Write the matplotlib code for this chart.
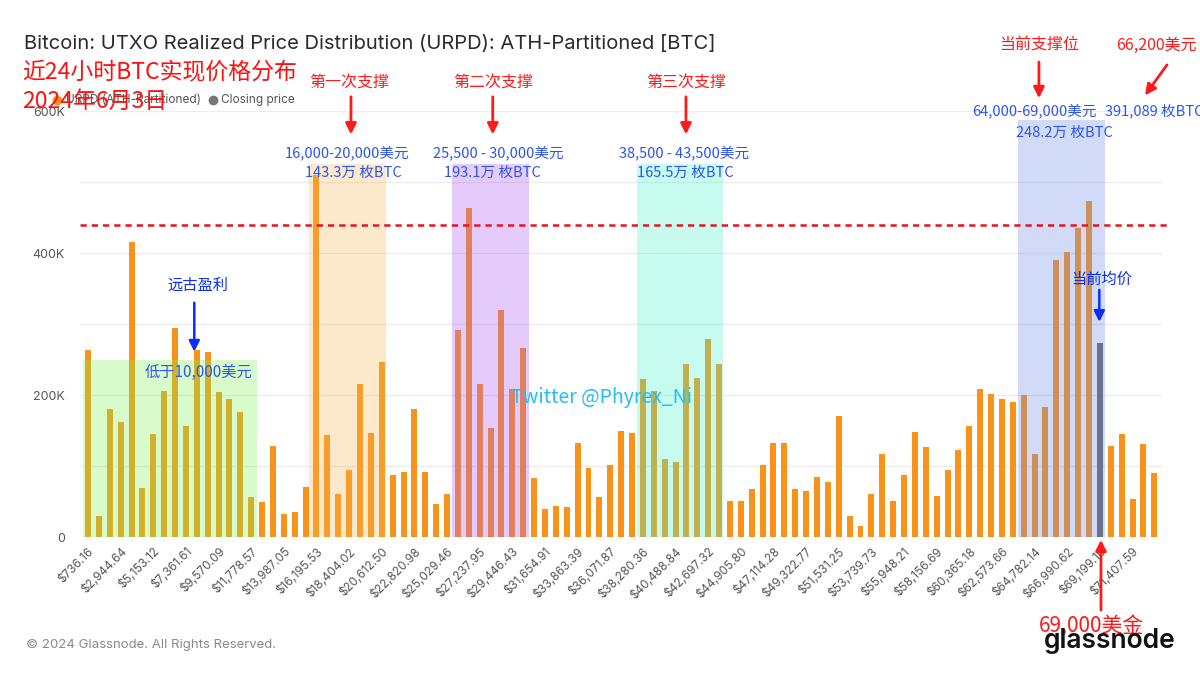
import matplotlib
matplotlib.use("Agg")
import matplotlib.pyplot as plt
from matplotlib.lines import Line2D
from matplotlib.patches import Rectangle
import numpy as np

# URPD supply per price bucket (thousand BTC), buckets 1..99
supply_k = [264, 30, 180, 162, 416, 69, 145, 205, 294, 156,
            264, 261, 204, 194, 176, 56, 49, 128, 33, 35,
            70, 510, 143, 60, 95, 216, 147, 246, 87, 91,
            180, 92, 46, 61, 292, 463, 215, 153, 320, 208,
            266, 83, 39, 43, 42, 132, 97, 56, 101, 150,
            147, 223, 206, 110, 105, 243, 224, 279, 243, 51,
            51, 67, 101, 133, 132, 67, 65, 84, 78, 170,
            30, 15, 61, 117, 51, 88, 148, 127, 58, 94,
            122, 157, 208, 202, 194, 190, 200, 117, 183, 390,
            401, 435, 473, 273, 128, 145, 53, 131, 90]
closing_bucket = 94

tick_labels = ["$736.16", "$2,944.64", "$5,153.12", "$7,361.61", "$9,570.09",
               "$11,778.57", "$13,987.05", "$16,195.53", "$18,404.02", "$20,612.50",
               "$22,820.98", "$25,029.46", "$27,237.95", "$29,446.43", "$31,654.91",
               "$33,863.39", "$36,071.87", "$38,280.36", "$40,488.84", "$42,697.32",
               "$44,905.80", "$47,114.28", "$49,322.77", "$51,531.25", "$53,739.73",
               "$55,948.21", "$58,156.69", "$60,365.18", "$62,573.66", "$64,782.14",
               "$66,990.62", "$69,199.10", "$71,407.59"]

# highlighted zones (bucket edges, top in thousand BTC)
zone_start = [0.55, 21.35, 34.5, 51.5, 86.5]
zone_end = [16.5, 28.35, 41.5, 59.4, 94.5]
zone_top = [250, 526, 526, 526, 587]
zone_color = ["#80f555", "#f8b655", "#ac55f5", "#48f5ca", "#698ae8"]

ref_level_k = 439

CJK = ["Noto Sans CJK SC", "DejaVu Sans"]
LAT = ["Inter", "DejaVu Sans"]

fig = plt.figure(figsize=(12, 6.75), dpi=100)
ax = fig.add_axes([80 / 1200, 138 / 675, 1082 / 1200, 426 / 675])

def fp(x, y):
    return (x / 1200, 1 - y / 675)

buckets = np.arange(1, len(supply_k) + 1)
vals = np.array(supply_k) * 1000
colors = ["#6b6b6b" if b == closing_bucket else "#f7931a" for b in buckets]
ax.bar(buckets, vals, width=0.55, color=colors, zorder=2)

for s, e, t, c in zip(zone_start, zone_end, zone_top, zone_color):
    ax.add_patch(Rectangle((s, 0), e - s, t * 1000, facecolor=c, alpha=0.3,
                           edgecolor="none", zorder=3, clip_on=False))

ax.plot([0.27, 100.4], [ref_level_k * 1000] * 2, color="#e8141c", lw=1.8,
        ls=(0, (2.5, 2)), zorder=4, clip_on=False)

ax.set_xlim(0.265, 99.71)
ax.set_ylim(0, 600000)
ax.set_yticks([0, 200000, 400000, 600000])
ax.set_yticklabels(["0", "200K", "400K", "600K"], family=LAT, fontsize=9, color="#555555")
ax.set_yticks(np.arange(0, 600001, 100000), minor=True)
ax.grid(axis="y", which="both", color="#ececec", lw=1, zorder=0)
ax.set_axisbelow(True)
ax.set_xticks(buckets[::3])
ax.set_xticklabels(tick_labels, rotation=45, ha="right", va="top", rotation_mode="anchor",
                   family=LAT, fontsize=8.5, color="#555555")
ax.tick_params(axis="both", which="both", length=0)
ax.tick_params(axis="y", pad=11)
ax.tick_params(axis="x", pad=6)
for sp in ax.spines.values():
    sp.set_visible(False)

# header
fig.text(*fp(24, 44), "Bitcoin: UTXO Realized Price Distribution (URPD): ATH-Partitioned [BTC]",
         family=LAT, fontsize=14.5, color="#2b2b2b", va="center", ha="left")
fig.add_artist(Line2D([57 / 1200], [1 - 100 / 675], marker="o", ms=6, color="#f7931a",
                      transform=fig.transFigure))
fig.text(*fp(66, 100), "URPD (ATH-Partitioned)", family=LAT, fontsize=8.5, color="#555555", va="center")
fig.add_artist(Line2D([213 / 1200], [1 - 100 / 675], marker="o", ms=6, color="#777777",
                      transform=fig.transFigure))
fig.text(*fp(221, 100), "Closing price", family=LAT, fontsize=8.5, color="#555555", va="center")
fig.text(*fp(22, 73), "近24小时BTC实现价格分布", family=CJK, fontsize=16.5, color="#ff1010", va="center")
fig.text(*fp(22, 101), "2024年6月3日", family=CJK, fontsize=16.5, color="#ff1010", va="center")

red = "#ff1a1a"
blue_t = "#2c55ee"
blue_a = "#0a2ef5"

def ftxt(x, y, s, color, size, **kw):
    fig.text(*fp(x, y), s, family=CJK, fontsize=size, color=color, ha="center", va="center", **kw)

def arrow(x0, y0, x1, y1, color, lw=2):
    ax.annotate("", xy=(x1, y1 * 1000), xytext=(x0, y0 * 1000), annotation_clip=False,
                arrowprops=dict(arrowstyle="-|>", color=color, lw=lw, mutation_scale=16,
                                shrinkA=0, shrinkB=0), zorder=6)

ftxt(349, 83, "第一次支撑", red, 11.5)
ftxt(493, 83, "第二次支撑", red, 11.5)
ftxt(686, 83, "第三次支撑", red, 11.5)
ftxt(1039, 45, "当前支撑位", red, 11.5)
ftxt(1156, 45, "66,200美元", red, 11.5)
arrow(25.17, 620, 25.17, 567, red)
arrow(38.2, 620, 38.2, 567, red)
arrow(55.96, 620, 55.96, 567, red)
arrow(88.4, 669, 88.4, 618, red)
arrow(100.17, 665, 98.15, 622, red)

ftxt(347, 153, "16,000-20,000美元", blue_t, 10.5)
ftxt(353, 173, "143.3万 枚BTC", blue_t, 10.5)
ftxt(498, 153, "25,500 - 30,000美元", blue_t, 10.5)
ftxt(492, 173, "193.1万 枚BTC", blue_t, 10.5)
ftxt(684, 153, "38,500 - 43,500美元", blue_t, 10.5)
ftxt(685, 173, "165.5万 枚BTC", blue_t, 10.5)
ftxt(1034, 111, "64,000-69,000美元", blue_t, 10.5)
ftxt(1064, 133, "248.2万 枚BTC", blue_t, 10.5)
ftxt(1154, 111, "391,089 枚BTC", blue_t, 10.5)

ftxt(198, 285, "远古盈利", blue_a, 11)
arrow(10.77, 330, 10.77, 261, blue_a, lw=1.8)
ftxt(199, 372, "低于10,000美元", blue_t, 11)
ftxt(1102, 279, "当前均价", blue_a, 11)
arrow(93.95, 348, 93.95, 303, blue_a, lw=1.8)

ftxt(602, 398, "Twitter @Phyrex_Ni", "#22bff5", 14)
ftxt(1091, 626, "69,000美金", red, 15)
arrow(94.1, -103, 94.1, -4, red)

fig.text(*fp(26, 645), "© 2024 Glassnode. All Rights Reserved.", family=LAT, fontsize=9.5,
         color="#8a8a8a", va="center")
fig.text(*fp(1110, 641), "glassnode", family=LAT, fontsize=19, color="#111111",
         weight="semibold", ha="center", va="center")

fig.savefig("out.png", dpi=100)
